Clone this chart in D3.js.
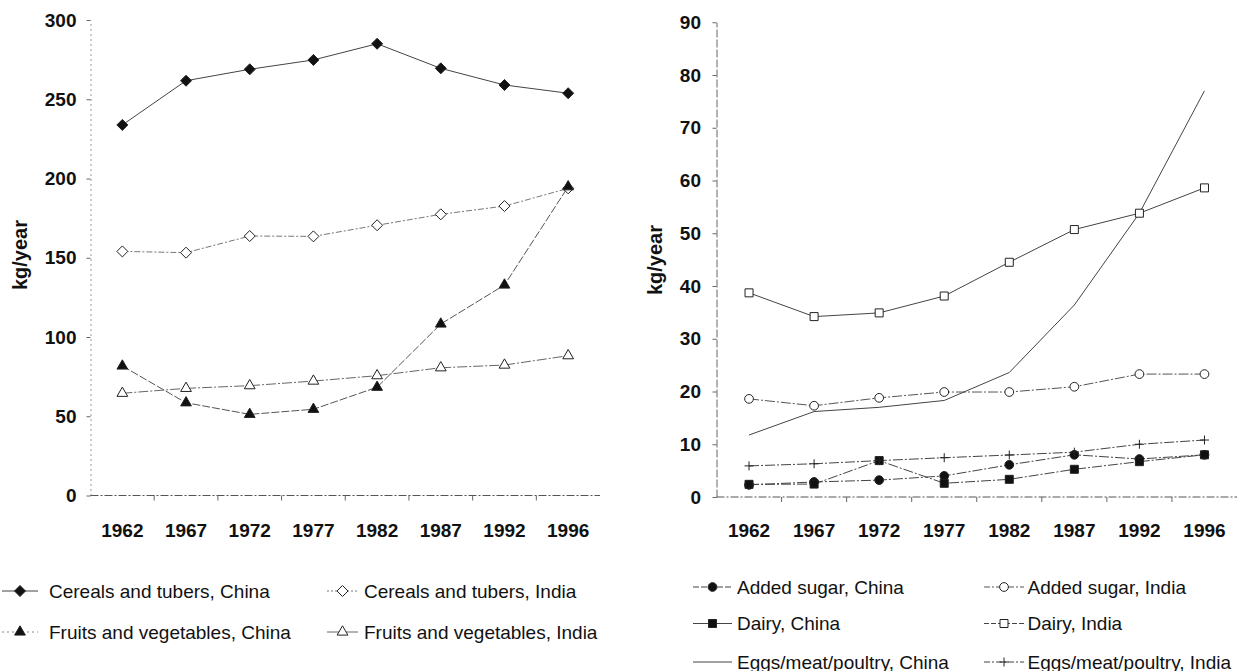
<!DOCTYPE html>
<html><head><meta charset="utf-8">
<script src="https://cdn.jsdelivr.net/npm/d3@7"></script>
<style>
body{margin:0;background:#fff}
text{font-family:"Liberation Sans",Arial,Helvetica,sans-serif;fill:#111}
</style>
</head><body>
<svg id="c" width="1238" height="671"></svg>
<script>
// ---------- data ----------
const years = ["1962","1967","1972","1977","1982","1987","1992","1996"];
const leftTicks = [0,50,100,150,200,250,300];
const rightTicks = [0,10,20,30,40,50,60,70,80,90];

// left panel (kg/year)
const cerealsChina = [233.8,261.7,268.9,274.8,285.0,269.5,259.0,253.8];
const cerealsIndia = [154.0,153.2,163.7,163.5,170.5,177.4,182.6,193.8];
const fruitsChina  = [81.7,58.5,51.2,54.4,68.3,108.2,132.8,194.8];
const fruitsIndia  = [64.5,67.6,69.3,72.2,75.6,80.6,82.3,88.2];

// right panel (kg/year)
const sugarChina = [2.3,2.85,3.2,4.0,6.1,8.0,7.2,8.0];
const sugarIndia = [18.6,17.3,18.8,19.9,19.9,20.9,23.3,23.3];
const dairyChina = [2.4,2.45,6.9,2.6,3.35,5.25,6.7,8.0];
const dairyIndia = [38.7,34.2,34.9,38.1,44.5,50.7,53.8,58.6];
const eggsChina  = [11.75,16.2,17.0,18.3,23.6,36.4,53.8,77.0];
const eggsIndia  = [5.9,6.3,6.9,7.45,7.96,8.5,10.0,10.8];

const leftNames = ["Cereals and tubers, China","Cereals and tubers, India","Fruits and vegetables, China","Fruits and vegetables, India"];
const rightNames = ["Added sugar, China","Added sugar, India","Dairy, China","Dairy, India","Eggs/meat/poultry, China","Eggs/meat/poultry, India"];

// ---------- drawing ----------
const svg = d3.select("#c");

function markerPath(type){
  switch(type){
    case "diamond": return "M0,-5.5L5.5,0L0,5.5L-5.5,0Z";
    case "triangle": return d3.symbol(d3.symbolTriangle, 50)();
    case "circle": return d3.symbol(d3.symbolCircle, 60)();
    case "square": return d3.symbol(d3.symbolSquare, 64)();
    case "plus": return "M-4.5,0H4.5M0,-4.5V4.5";
    default: return null;
  }
}

function drawMarker(g, type, filled, x, y){
  const p = markerPath(type);
  if(!p) return;
  g.append("path").attr("d", p)
    .attr("transform", `translate(${x},${y})`)
    .attr("fill", type==="plus" ? "none" : (filled ? "#111" : "#fff"))
    .attr("stroke", "#222").attr("stroke-width", 1);
}

function panel(cfg){
  const g = svg.append("g");
  const x = d3.scaleBand().domain(years).range(cfg.xRange);
  const y = d3.scaleLinear().domain([0, cfg.yMax]).range(cfg.yRange);

  // y axis
  const ya = g.append("g").attr("transform", `translate(${cfg.xRange[0]},0)`)
    .call(d3.axisLeft(y).tickValues(cfg.ticks).tickSize(4).tickSizeOuter(0).tickPadding(cfg.tickPad));
  ya.select(".domain").attr("stroke", cfg.axisColor).attr("stroke-dasharray", cfg.axisDash);
  ya.selectAll(".tick line").attr("stroke", "#666");
  ya.selectAll(".tick text").attr("font-size", 19).attr("font-weight", "bold")
    .attr("font-family", '"Liberation Sans", Arial, sans-serif').attr("fill", "#111");

  // x axis line
  const y0 = y(0);
  g.append("line").attr("x1", cfg.xRange[0]).attr("x2", cfg.xRange[1])
    .attr("y1", y0).attr("y2", y0)
    .attr("stroke", "#555").attr("stroke-dasharray", "8,2,2,2");
  // ticks at category boundaries
  years.slice(1).forEach(yr => {
    g.append("line").attr("x1", x(yr)).attr("x2", x(yr))
      .attr("y1", y0).attr("y2", y0 + 5).attr("stroke", "#666");
  });
  // x labels
  years.forEach(yr => {
    g.append("text").attr("x", x(yr) + x.bandwidth()/2).attr("y", cfg.xLabelY)
      .attr("text-anchor", "middle").attr("dominant-baseline", "central")
      .attr("font-size", 19).attr("font-weight", "bold").text(yr);
  });

  // y title
  g.append("text").attr("transform", `translate(${cfg.titleX},${cfg.titleY}) rotate(-90)`)
    .attr("text-anchor", "middle").attr("dominant-baseline", "central")
    .attr("font-size", 20).attr("font-weight", "bold").text("kg/year");

  const line = d3.line().x((d,i) => x(years[i]) + x.bandwidth()/2).y(d => y(d));

  cfg.series.forEach(s => {
    g.append("path").datum(s.values).attr("d", line)
      .attr("fill", "none").attr("stroke", s.color).attr("stroke-width", s.width || 1)
      .attr("stroke-dasharray", s.dash || null);
  });
  cfg.series.forEach(s => {
    s.values.forEach((v,i) => drawMarker(g, s.marker, s.filled, x(years[i]) + x.bandwidth()/2, y(v)));
  });

  // legend
  cfg.series.forEach(s => {
    const L = s.legend;
    g.append("line").attr("x1", L.x0).attr("x2", L.x1).attr("y1", L.y).attr("y2", L.y)
      .attr("stroke", s.legendColor || s.color).attr("stroke-width", 1)
      .attr("stroke-dasharray", s.legendDash || null);
    drawMarker(g, s.marker, s.filled, (L.x0 + L.x1)/2, L.y);
    g.append("text").attr("x", L.tx).attr("y", L.y).attr("dominant-baseline", "central")
      .attr("font-size", 19).text(s.name);
  });
}

panel({
  xRange: [90.5, 600], yRange: [495.5, 20], yMax: 300, ticks: leftTicks, tickPad: 10,
  axisColor: "#999", axisDash: "2,3", xLabelY: 530, titleX: 20, titleY: 255,
  series: [
    {name: leftNames[0], values: cerealsChina, marker: "diamond", filled: true, color: "#444", dash: null,
     legend: {x0: 2, x1: 38, tx: 49, y: 591}},
    {name: leftNames[1], values: cerealsIndia, marker: "diamond", filled: false, color: "#777", dash: "6,2,2,2",
     legendDash: "2,2", legend: {x0: 327, x1: 358, tx: 364, y: 591}},
    {name: leftNames[2], values: fruitsChina, marker: "triangle", filled: true, color: "#555", dash: "8,2",
     legendDash: "2,3", legendColor: "#888", legend: {x0: 2, x1: 38, tx: 49, y: 632}},
    {name: leftNames[3], values: fruitsIndia, marker: "triangle", filled: false, color: "#666", dash: "10,2,2,2",
     legendDash: null, legend: {x0: 327, x1: 358, tx: 364, y: 632}}
  ]
});

panel({
  xRange: [716.5, 1237], yRange: [497, 22.25], yMax: 90, ticks: rightTicks, tickPad: 11.5,
  axisColor: "#666", axisDash: "8,2", xLabelY: 530, titleX: 655, titleY: 260,
  series: [
    {name: rightNames[0], values: sugarChina, marker: "circle", filled: true, color: "#444", dash: "10,2,2,2",
     legendDash: "6,2", legend: {x0: 693, x1: 732, tx: 737, y: 587}},
    {name: rightNames[1], values: sugarIndia, marker: "circle", filled: false, color: "#555", dash: "10,2,2,2",
     legendDash: "6,2,2,2", legend: {x0: 984, x1: 1024, tx: 1027.5, y: 587}},
    {name: rightNames[2], values: dairyChina, marker: "square", filled: true, color: "#444", dash: "10,2,2,2",
     legendDash: null, legend: {x0: 693, x1: 732, tx: 737, y: 623.5}},
    {name: rightNames[3], values: dairyIndia, marker: "square", filled: false, color: "#444", dash: null,
     legendDash: "5,2", legend: {x0: 984, x1: 1024, tx: 1027.5, y: 623.5}},
    {name: rightNames[4], values: eggsChina, marker: "none", filled: false, color: "#444", dash: null,
     legend: {x0: 693, x1: 732, tx: 737, y: 662}},
    {name: rightNames[5], values: eggsIndia, marker: "plus", filled: false, color: "#444", dash: "10,2,2,2",
     legendDash: "6,2,2,2", legend: {x0: 984, x1: 1024, tx: 1027.5, y: 662}}
  ]
});
</script>
</body></html>
